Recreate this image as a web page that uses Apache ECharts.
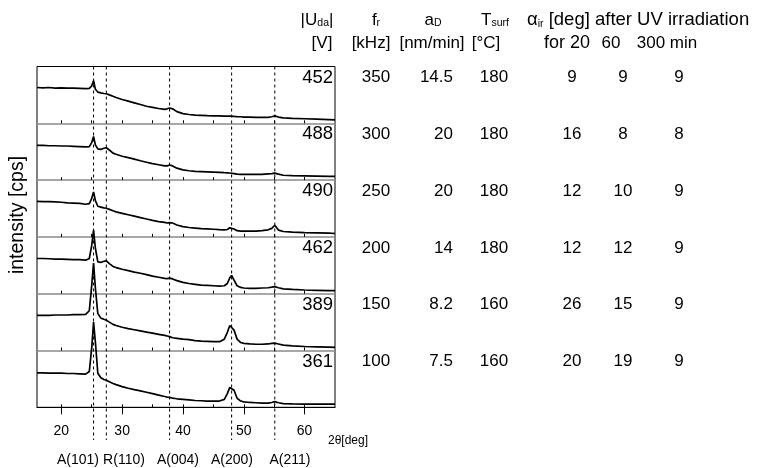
<!DOCTYPE html>
<html>
<head>
<meta charset="utf-8">
<script src="https://cdn.jsdelivr.net/npm/echarts@6/dist/echarts.min.js"></script>
<style>
html,body{margin:0;padding:0;background:#fff}
#main{width:762px;height:468px}
</style>
</head>
<body>
<div id="main"></div>
<script>
// 2theta [deg], shared by all six patterns
const twoTheta = [16,17,18,19,20,21,22,23,24,
  24.6,25.0,25.3,25.6,26.0,26.5,27.0,27.4,27.9,28.5,
  29,30,31,32,33,34,35,36,37,
  37.4,37.8,38.3,39,
  40,41,42,43,44,45,46,
  46.8,47.3,47.7,48.0,48.4,48.9,49.5,
  50,51,52,53,54,
  54.6,55.1,55.7,56.5,
  58,60,62,64,65];

// intensity, arbitrary units per panel (0 = panel bottom, 100 = panel top)
const y452 = [63,62.5,63,62,62.5,62,62,61.5,61,
  61.5,66,75,60,55,53.5,52.5,52,50,47.5,
  45.5,42,39,36,33,30,28,26,24.5,
  25.5,27,25.5,20.5,
  17,15.5,14.5,14,13.5,13.2,13,
  12.8,12.6,12.8,12.5,12.2,11.8,11.5,
  11,10.8,10.5,10.3,10.5,
  11.5,13,11,9.5,
  8.5,8,7.5,6.5,6];
const y488 = [61,61,60.5,60.5,60,60,59.5,59,58.5,
  59,66,77,62,55,54,56,57,53,47.5,
  45.5,42,39.5,37,34,31.5,29,27,25,
  25,26.5,25,21,
  18,16.5,15.5,15,14.5,14,13.5,
  13,12.8,12.5,12.3,11.5,10.5,10,
  10,10,10,10.2,11,
  11.5,12.2,10.5,8.5,
  8,7.5,7,6.5,6.5];
const y490 = [62.5,62,62,61.5,61,60,59.5,59,57.5,
  58.5,68,79,64,54,52.5,51,50.5,48.5,46,
  44,41.5,39,36.5,34,31.5,29,27,25.5,
  24.5,25,24.5,21,
  18,16.5,15.5,14.5,14,13.5,12.8,
  12.3,13,16,17.5,14,11,10.2,
  10,10,10.3,11,12.5,
  15,20.5,12,9.5,
  8.5,7.5,7,6.5,6];
const y462 = [62,62,61.5,61,61,60.5,60,60,59,
  62,85,112,80,56,55,57,58,53,48,
  46,43,40.5,38,36,33.5,31,29,27,
  26.5,27.5,26,23,
  20,18,16.5,15,14.5,14,13.5,
  14,18,28,32,24,14,11,
  10,9.5,9.5,10,10.5,
  11.5,12.5,10.5,8.5,
  7.5,6.5,6,5.5,5.5];
const y389 = [62,62,62,62.5,62.5,62.5,63,63,63.5,
  70,115,154,110,65,57,55,53.5,50,46,
  44,41,38.5,36.5,34.5,32.5,30.5,28.5,26.5,
  25.5,24.5,22.5,21.5,
  20,19,17.5,16.5,16,15.5,15.5,
  20,32,44,46,36,20,14,
  12.5,11.5,11,11,11.5,
  12.5,13,11.5,9.5,
  8,7,6.5,6,5.5];
const y361 = [60.5,60.5,60,60,60,59.5,59.5,59,58.5,
  63,105,150,115,60,52,49,47.5,45,42,
  40,36.5,33.5,31,29,26.5,24,21.5,19,
  18,17.5,16,15,
  14,13,12,11.5,11,11,11,
  14,24,35,37,30,16,11,
  9.5,8.5,8,7.5,7.5,
  8.5,10,8,6.5,
  6,5.5,5.5,5.5,5.5];
const curves = [y452, y488, y490, y462, y389, y361];

// table
const uda = [452, 488, 490, 462, 389, 361];
const fr = [350, 300, 250, 200, 150, 100];
const aD = ['14.5', '20', '20', '14', '8.2', '7.5'];
const tSurf = [180, 180, 180, 180, 160, 160];
const alpha20 = [9, 16, 12, 12, 26, 20];
const alpha60 = [9, 8, 10, 12, 15, 19];
const alpha300 = [9, 8, 9, 9, 9, 9];

const peaks = [25.3, 27.4, 37.8, 48.0, 55.1];
const peakNames = ['A(101)', 'R(110)', 'A(004)', 'A(200)', 'A(211)'];
const peakLabelX = [78, 124, 178, 232, 290];
const xTicks = [20, 30, 40, 50, 60];
const xMinorTicks = [20, 25, 30, 35, 40, 45, 50, 55, 60];

const FONT = '"Liberation Sans", Arial, Helvetica, sans-serif';
const left = 37, width = 298, top0 = 66.5, panelH = 56.8;

var chart = echarts.init(document.getElementById('main'));
var grid = [], xAxis = [], yAxis = [], series = [];

curves.forEach((c, i) => {
  const last = i === curves.length - 1;
  grid.push({left: left, width: width, top: top0 + i * panelH, height: panelH, show: false});
  xAxis.push({
    type: 'value', gridIndex: i, min: 16, max: 65,
    axisLine: {show: true, lineStyle: {color: last ? '#000' : '#8a8a8a', width: last ? 1 : 1.5}},
    axisTick: {show: true, inside: true, length: 3, customValues: xMinorTicks, lineStyle: {color: '#000'}},
    axisLabel: {show: false},
    splitLine: {show: false}
  });
  yAxis.push({type: 'value', gridIndex: i, min: 0, max: 100, show: false});
  series.push({
    type: 'line', xAxisIndex: i, yAxisIndex: i,
    data: twoTheta.map((x, j) => [x, c[j]]),
    showSymbol: false, clip: false, silent: true, z: 5,
    lineStyle: {color: '#000', width: 1.7}
  });
});

// outer ticks and labels of the bottom panel
xAxis.push({
  type: 'value', gridIndex: 5, position: 'bottom', min: 16, max: 65,
  axisLine: {show: false},
  axisTick: {show: true, length: 7, customValues: xTicks, lineStyle: {color: '#000'}},
  axisLabel: {show: true, customValues: xTicks, margin: 17, fontSize: 14, color: '#000', fontFamily: FONT},
  splitLine: {show: false}
});
yAxis.push({type: 'value', gridIndex: 5, min: 0, max: 100, show: false});

// frame
grid.push({left: left, width: width, top: top0, height: panelH * 6, show: true, borderColor: '#000', borderWidth: 1, backgroundColor: 'transparent'});
xAxis.push({type: 'value', gridIndex: 6, show: false, min: 0, max: 1});
yAxis.push({type: 'value', gridIndex: 6, show: false, min: 0, max: 1});

chart.setOption({
  animation: false,
  grid: grid, xAxis: xAxis, yAxis: yAxis, series: series
});

const sub = {fontSize: 10.5, lineHeight: 6, verticalAlign: 'bottom', fontFamily: FONT, fill: '#000'};
function txt(text, x, y, align, size) {
  return {type: 'text', x: x, y: y, silent: true, z: 10,
    style: {text: text, fontSize: size || 17, fontFamily: FONT, fill: '#000',
      align: align || 'center', verticalAlign: 'middle', rich: {s: sub}}};
}

var g = [];
peaks.forEach((p) => {
  const px = chart.convertToPixel({xAxisIndex: 5}, p);
  g.push({type: 'line', silent: true, z: 3,
    shape: {x1: px, y1: top0, x2: px, y2: 440},
    style: {stroke: '#000', lineWidth: 1, lineDash: [3, 3]}});
});
peakNames.forEach((n, i) => g.push(txt(n, peakLabelX[i], 460, 'center', 14)));
g.push(txt('2θ[deg]', 328, 441, 'left', 12));
g.push({type: 'text', x: 18, y: 215, rotation: Math.PI / 2, silent: true,
  style: {text: 'intensity [cps]', fontSize: 19.5, fontFamily: FONT, fill: '#000', align: 'center', verticalAlign: 'middle'}});

// header
g.push(txt('|U{s|da}|', 317, 20));
g.push(txt('f{s|r}', 376, 20));
g.push(txt('a{s|D}', 433, 20));
g.push(txt('T{s|surf}', 495, 20));
g.push(txt('α{s|ir} [deg] after UV irradiation', 527, 20, 'left', 18.5));
g.push(txt('[V]', 322, 43));
g.push(txt('[kHz]', 371, 43));
g.push(txt('[nm/min]', 432, 43));
g.push(txt('[°C]', 486, 43));
g.push(txt('for 20', 567, 43, 'center', 18));
g.push(txt('60', 611, 43));
g.push(txt('300 min', 667, 43));

uda.forEach((u, i) => {
  const y = top0 + i * panelH + 11;
  g.push(txt(String(u), 333, y, 'right', 18.5));
  g.push(txt(String(fr[i]), 376, y));
  g.push(txt(aD[i], 453, y, 'right'));
  g.push(txt(String(tSurf[i]), 494, y));
  g.push(txt(String(alpha20[i]), 572, y));
  g.push(txt(String(alpha60[i]), 623, y));
  g.push(txt(String(alpha300[i]), 679, y));
});

chart.setOption({graphic: g});
</script>
</body>
</html>
